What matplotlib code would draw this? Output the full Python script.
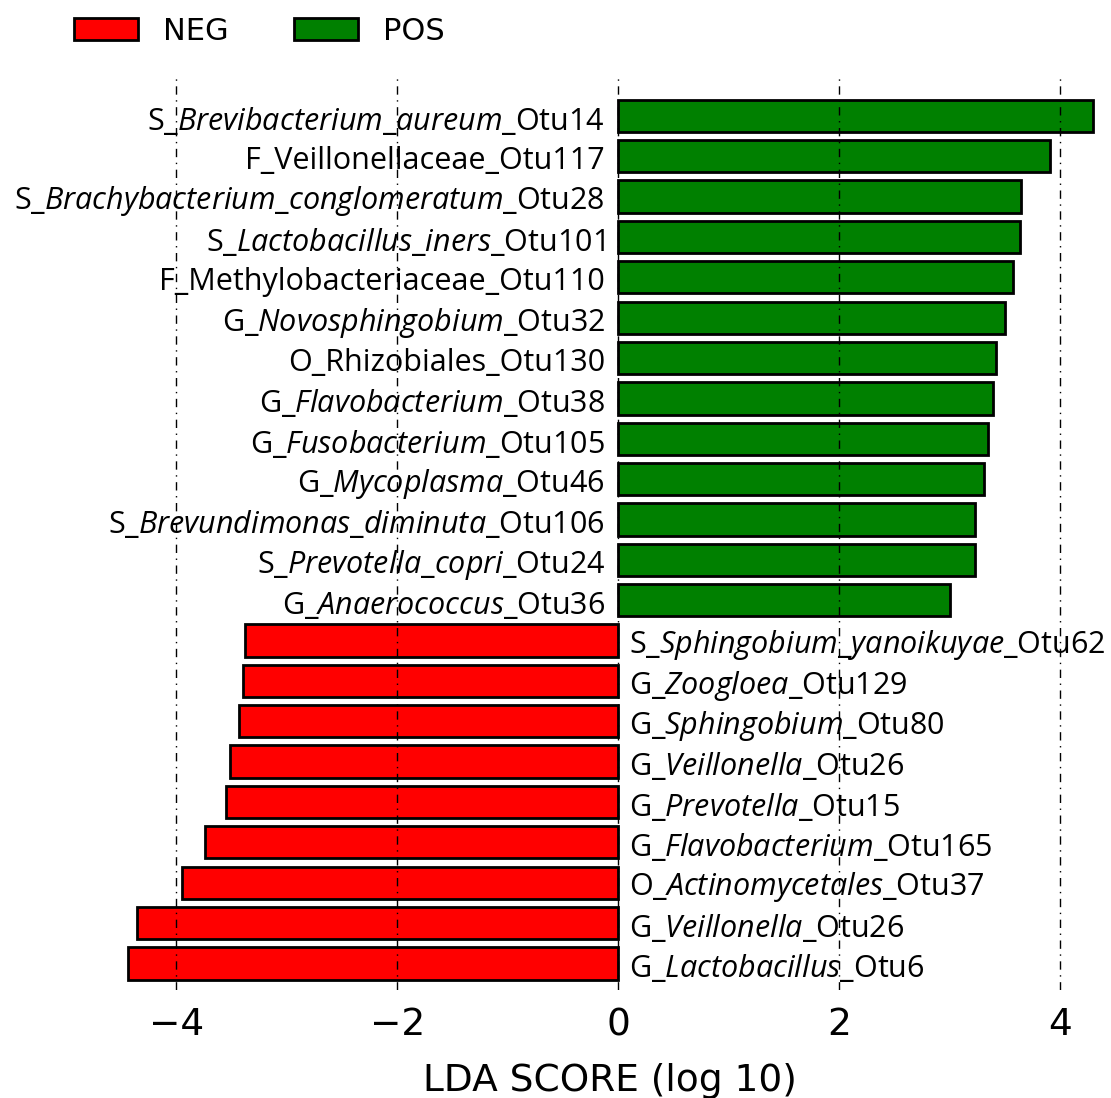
import matplotlib.pyplot as plt
from matplotlib.patches import Patch

# LDA scores, bottom to top
neg_names = [
    ("G_", "Lactobacillus", "_Otu6"),
    ("G_", "Veillonella", "_Otu26"),
    ("O_", "Actinomycetales", "_Otu37"),
    ("G_", "Flavobacterium", "_Otu165"),
    ("G_", "Prevotella", "_Otu15"),
    ("G_", "Veillonella", "_Otu26"),
    ("G_", "Sphingobium", "_Otu80"),
    ("G_", "Zoogloea", "_Otu129"),
    ("S_", "Sphingobium_yanoikuyae", "_Otu62"),
]
neg_scores = [-4.44, -4.36, -3.95, -3.74, -3.55, -3.51, -3.43, -3.40, -3.38]

pos_names = [
    ("G_", "Anaerococcus", "_Otu36"),
    ("S_", "Prevotella_copri", "_Otu24"),
    ("S_", "Brevundimonas_diminuta", "_Otu106"),
    ("G_", "Mycoplasma", "_Otu46"),
    ("G_", "Fusobacterium", "_Otu105"),
    ("G_", "Flavobacterium", "_Otu38"),
    ("O_Rhizobiales_Otu130", "", ""),
    ("G_", "Novosphingobium", "_Otu32"),
    ("F_Methylobacteriaceae_Otu110", "", ""),
    ("S_", "Lactobacillus_iners", "_Otu101"),
    ("S_", "Brachybacterium_conglomeratum", "_Otu28"),
    ("F_Veillonellaceae_Otu117", "", ""),
    ("S_", "Brevibacterium_aureum", "_Otu14"),
]
pos_scores = [3.00, 3.23, 3.23, 3.31, 3.35, 3.39, 3.42, 3.50, 3.57, 3.64, 3.65, 3.91, 4.30]

names = neg_names + pos_names
scores = neg_scores + pos_scores
colors = ["#ff0000"] * len(neg_scores) + ["#008000"] * len(pos_scores)

plt.rcParams["mathtext.fontset"] = "custom"
plt.rcParams["mathtext.it"] = "Open Sans:italic"
plt.rcParams["mathtext.rm"] = "Open Sans"

fig = plt.figure(figsize=(11.11, 10.98), dpi=100)
ax = fig.add_axes([0.108, 0.098, 0.882, 0.831])

ypos = list(range(len(scores)))
ax.barh(ypos, scores, height=0.8, color=colors, edgecolor="black", linewidth=2, zorder=1)

ax.set_xlim(-4.51, 4.36)
ax.set_ylim(-0.67, len(scores) - 1 + 0.94)
ax.set_yticks([])
ax.set_xticks([-4, -2, 0, 2, 4])
ax.tick_params(axis="x", length=0, labelsize=27, pad=12)
for s in ax.spines.values():
    s.set_visible(False)
for x in [-4, -2, 0, 2, 4]:
    ax.axvline(x, color="black", linestyle=(0, (6, 4, 1, 4)), linewidth=1, zorder=5)

fs = 22
fam = "Open Sans"


def draw_label(y, parts, right):
    a, b, c = parts
    if b:
        txt = a + "$\\it{" + b.replace("_", "\\_") + "}$" + c
    else:
        txt = a
    if right:
        ax.text(-0.12, y - 0.12, txt, ha="right", va="center", fontsize=fs, family=fam, zorder=3)
    else:
        ax.text(0.1, y - 0.12, txt, ha="left", va="center", fontsize=fs, family=fam, zorder=3)


for i, (p, v) in enumerate(zip(names, scores)):
    draw_label(i, p, right=v > 0)

ax.set_xlabel("LDA SCORE (log 10)", fontsize=27, labelpad=14)

handles = [Patch(facecolor="#ff0000", edgecolor="black", linewidth=2, label="NEG"),
           Patch(facecolor="#008000", edgecolor="black", linewidth=2, label="POS")]
fig.legend(handles=handles, loc="upper left", bbox_to_anchor=(0.042, 1.010), ncol=2,
           frameon=False, fontsize=22, handlelength=2.1, handleheight=0.75,
           handletextpad=0.8, columnspacing=2.15)

fig.savefig("out.png", dpi=100)
